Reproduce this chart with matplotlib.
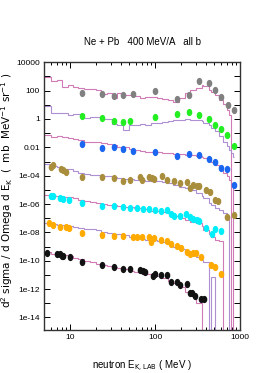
import matplotlib
matplotlib.use("Agg")
import matplotlib.pyplot as plt
from matplotlib import font_manager
from matplotlib.path import Path
from matplotlib.transforms import Affine2D
from matplotlib.ticker import FixedLocator, FixedFormatter, LogLocator, NullFormatter

# narrow font for the numbers, if we have it
installed = {f.name for f in font_manager.fontManager.ttflist}
if "Liberation Sans Narrow" in installed:
    plt.rcParams['font.family'] = ['Liberation Sans Narrow', 'DejaVu Sans']
    num_size = 7
else:
    plt.rcParams['font.family'] = ['Liberation Sans', 'DejaVu Sans']
    num_size = 6

# === measured points (already scaled by the 100^n offsets) ===
gray_E = [13.7, 23.6, 32.9, 42.4, 54.7, 100, 180, 253, 329, 428, 508, 598, 717, 850]
gray_v = [72, 61, 42, 52, 58, 94, 26, 49, 500, 363, 111, 37, 9.7, 4.1]

green_E = [13.9, 23.6, 32.9, 42.4, 50.4, 100, 181, 253, 329, 428, 508, 598, 709, 850]
green_v = [1.62, 1.12, 0.76, 0.64, 0.76, 1.38, 2.2, 3.1, 1.9, 1.0, 0.40, 0.20, 0.074, 0.013]

blue_E = [13.9, 23.6, 32.9, 42.4, 54.7, 100, 181, 253, 329, 428, 508, 598, 709, 850]
blue_v = [0.0163, 0.0085, 0.010, 0.0079, 0.0058, 0.0045, 0.0026, 0.0035, 0.0030,
          0.0014, 0.00092, 0.00036, 0.00030, 2.2e-5]

olive_E = [5.98, 6.36, 7.84, 8.34, 8.97, 13.9, 23.6, 32.9, 42.4, 50.4, 66.6, 70.9, 85,
           91.5, 97.9, 120, 139, 167, 197, 236, 258, 282, 309, 329, 394, 444, 512, 549,
           709, 850]
olive_v = [4.3e-4, 5.6e-4, 3.0e-4, 2.5e-4, 1.9e-4, 8.5e-5, 8.5e-5, 6.5e-5, 4.4e-5, 4.9e-5,
           7.6e-5, 4.9e-5, 8.5e-5, 6.5e-5, 6.1e-5, 9.5e-5, 4.9e-5, 4.2e-5, 2.9e-5, 3.6e-5,
           1.35e-5, 2.1e-5, 1.95e-5, 1.9e-5, 9.7e-6, 7.4e-6, 1.9e-6, 1.6e-6, 1.27e-7, 1.75e-7]

cyan_E = [5.98, 6.36, 7.63, 8.34, 9.81, 13.9, 23.6, 32.9, 42.4, 50.4, 60.8, 71.4, 84.3, 99,
          118, 139, 154, 168, 198, 233, 258, 282, 309, 329, 394, 467, 508, 602]
cyan_v = [3.7e-6, 3.7e-6, 2.5e-6, 2.2e-6, 1.9e-6, 1.1e-6, 7.2e-7, 7.2e-7, 5.8e-7, 5.0e-7,
          5.5e-7, 4.2e-7, 4.7e-7, 3.8e-7, 3.2e-7, 3.8e-7, 1.96e-7, 1.5e-7, 1.4e-7, 1.96e-7,
          1.15e-7, 8.3e-8, 7.4e-8, 6.6e-8, 1.9e-8, 7.2e-9, 1.6e-8, 1.3e-8]

orange_E = [5.7, 6.36, 7.6, 8.97, 9.8, 13.9, 23.6, 32.9, 42.4, 54.7, 60.8, 70.9, 84, 90, 97,
            118, 139, 154, 182, 200, 236, 258, 282, 302, 352, 451, 508, 602]
orange_v = [4.4e-8, 3.3e-8, 2.6e-8, 2.4e-8, 2.1e-8, 9.4e-9, 6.5e-9, 5.8e-9, 5.8e-9, 4.9e-9,
            4.5e-9, 4.5e-9, 4.9e-9, 2.2e-9, 3.8e-9, 2.9e-9, 2.6e-9, 1.5e-9, 1.15e-9, 8.3e-10,
            4.3e-10, 3.0e-10, 3.7e-10, 3.7e-10, 1.9e-10, 4.9e-11, 3.4e-11, 1.15e-11]

black_E = [5.4, 6.97, 7.63, 7.98, 8.34, 10, 13.9, 23.5, 32.9, 42.4, 50.8, 67.3, 73.1, 77.3,
           94, 100, 119, 138, 153, 180, 197, 236, 258, 276, 298, 347, 382]
black_v = [3.5e-10, 2.8e-10, 2.8e-10, 2.3e-10, 2.1e-10, 1.7e-10, 8.5e-11, 4.9e-11, 3.9e-11,
           2.6e-11, 2.6e-11, 2.2e-11, 1.9e-11, 1.5e-11, 8.5e-12, 1.1e-11, 9.8e-12, 9.8e-12,
           3.3e-12, 3.0e-12, 1.9e-12, 2.2e-12, 5.5e-13, 5.0e-13, 3.2e-13, 1.9e-13, 1.9e-13]

# === model histograms (shared bin edges, MeV) ===
edges = [5, 6, 7, 8, 9.5, 11, 12.5, 14.5, 17, 20, 23, 27, 31, 36, 42, 49, 57, 66, 77, 90,
         105, 122, 142, 165, 192, 223, 260, 300, 355, 370, 431, 455, 510, 570, 637, 700,
         748, 794, 820, 850]

gray_h = [950, 450, 560, 180, 250, 180, 160, 140, 130, 110, 58, 70, 28, 65, 51, 49, 40, 32,
          37, 34, 29, 26, 22, 17, 30, 68, 110, 155, 250, 220, 110, 80, 49, 22, 11.5, 4.3,
          1.9, 0, 0]
green_h = [8, 2.8, 2.5, 2.5, 1.9, 2.1, 2.1, 1.25, 1.3, 1.3, 0.95, 1.0, 0.45, 0.35, 0.17,
           0.4, 0.38, 0.45, 0.38, 0.5, 0.56, 0.65, 0.7, 0.8, 0.9, 1.0, 0.85, 0.8, 0.75, 0.5,
           0.35, 0.25, 0.14, 0.063, 0.025, 0.0126, 0.0063, 0.004, 0.002]
blue_h = [0.07, 0.051, 0.063, 0.05, 0.044, 0.04, 0.035, 0.025, 0.025, 0.022, 0.019, 0.016,
          0.0145, 0.011, 0.010, 0.008, 0.0065, 0.0056, 0.0049, 0.0049, 0.0044, 0.0038,
          0.0038, 0.0033, 0.0032, 0.0029, 0.0029, 0.0026, 0.0022, 0.0018, 0.00126, 0.0009,
          0.00056, 0.00032, 0.00016, 8.9e-5, 5e-5, 3.2e-5, 0]
olive_h = [6.6e-4, 4.8e-4, 4.0e-4, 3.2e-4, 2.8e-4, 2.2e-4, 1.6e-4, 1.4e-4, 1.2e-4, 1.05e-4,
           9.5e-5, 8.9e-5, 7.6e-5, 7.1e-5, 6.3e-5, 5.6e-5, 5.0e-5, 5.0e-5, 4.5e-5, 4.2e-5,
           4.0e-5, 3.7e-5, 3.2e-5, 2.2e-5, 1.6e-5, 1.26e-5, 1.0e-5, 6.3e-6, 4e-6, 2.5e-6,
           1.26e-6, 9e-7, 5.6e-7, 3.5e-7, 2.2e-7, 1.26e-7, 0, 0, 0]
cyan_h = [4.5e-6, 4.0e-6, 3.5e-6, 3.2e-6, 3.0e-6, 2.5e-6, 2.0e-6, 1.6e-6, 1.45e-6, 1.26e-6,
          9.5e-7, 8.5e-7, 8e-7, 7.1e-7, 6.3e-7, 5.9e-7, 5.2e-7, 5.0e-7, 4.7e-7, 3.4e-7,
          3.2e-7, 2.8e-7, 2.2e-7, 1.5e-7, 1.1e-7, 7e-8, 5e-8, 4.5e-8, 3e-8, 1.5e-8, 8e-9,
          5e-9, 3e-9, 2.5e-9, 0, 0, 0, 0, 0]
orange_h = [4.4e-8, 4.0e-8, 3.5e-8, 3.2e-8, 2.8e-8, 2.5e-8, 2.2e-8, 1.8e-8, 1.6e-8, 1.4e-8,
            1.1e-8, 8.9e-9, 7.9e-9, 7.2e-9, 6.3e-9, 5.0e-9, 4.0e-9, 3.2e-9, 2.9e-9, 2.8e-9,
            2.5e-9, 2.0e-9, 1.5e-9, 1.0e-9, 7e-10, 4.3e-10, 2.5e-10, 1.9e-10, 1.2e-10,
            8.5e-11, 0, 7.4e-12, 0, 0, 0, 0, 0, 0, 0]
black_h = [3.9e-10, 3.2e-10, 2.5e-10, 2.5e-10, 2.0e-10, 1.6e-10, 1.26e-10, 9.5e-11, 7.9e-11,
           6.3e-11, 4.9e-11, 4.5e-11, 3.5e-11, 3.2e-11, 2.5e-11, 2.0e-11, 1.6e-11, 1.3e-11,
           1.2e-11, 1.1e-11, 9e-12, 6.5e-12, 4e-12, 2.5e-12, 1.4e-12, 6e-13, 4.5e-13,
           1.1e-13, 0, 0, 0, 0, 0, 0, 0, 0, 0, 0, 0]

PINK = "#d07ab6"
LAV = "#ad8fd2"

series = [
    (gray_E, gray_v, gray_h, "#808080", PINK),
    (green_E, green_v, green_h, "#22ee22", LAV),
    (blue_E, blue_v, blue_h, "#1a66f0", PINK),
    (olive_E, olive_v, olive_h, "#a88e3c", LAV),
    (cyan_E, cyan_v, cyan_h, "#00eefa", PINK),
    (orange_E, orange_v, orange_h, "#ffaa00", LAV),
    (black_E, black_v, black_h, "#111111", PINK),
]

# oval marker (taller than wide)
oval = Path.unit_circle().transformed(Affine2D().scale(0.72, 1.0))

fig = plt.figure(figsize=(2.66, 3.73), dpi=100)
ax = fig.add_axes([0.1654, 0.1153, 0.7369, 0.7177])

for E, v, h, mcol, hcol in series:
    ax.stairs(h, edges, color=hcol, lw=0.8, baseline=None, zorder=2)
    ax.plot(E, v, ls="none", marker=oval, ms=4.2, color=mcol, mec=mcol, zorder=3)

ax.set_xscale("log")
ax.set_yscale("log")
ax.set_xlim(4.95, 1000)
ax.set_ylim(1.3e-15, 1e4)

ax.xaxis.set_major_locator(FixedLocator([10, 100, 1000]))
ax.xaxis.set_major_formatter(FixedFormatter(["10", "100", "1000"]))
ax.xaxis.set_minor_locator(LogLocator(base=10, subs=range(2, 10), numticks=20))
ax.xaxis.set_minor_formatter(NullFormatter())

ymaj = [1e4, 1e2, 1, 1e-2, 1e-4, 1e-6, 1e-8, 1e-10, 1e-12, 1e-14]
ylab = ["10000", "100", "1", "0.01", "1e-04", "1e-06", "1e-08", "1e-10", "1e-12", "1e-14"]
ax.yaxis.set_major_locator(FixedLocator(ymaj))
ax.yaxis.set_major_formatter(FixedFormatter(ylab))
ax.yaxis.set_minor_locator(FixedLocator([1e3, 10, 0.1, 1e-3, 1e-5, 1e-7, 1e-9, 1e-11, 1e-13, 1e-15]))
ax.yaxis.set_minor_formatter(NullFormatter())

ax.tick_params(which="both", direction="in", top=True, right=True, labelsize=num_size, pad=3)
ax.tick_params(which="major", length=4, width=0.7)
ax.tick_params(which="minor", length=4, width=0.7)
ax.tick_params(axis="x", which="minor", length=2.5)
for s in ax.spines.values():
    s.set_linewidth(1.0)
    s.set_color("#333333")

fig.text(0.534, 0.887, "Ne + Pb   400 MeV/A   all b", ha="center", va="center", fontsize=7)
fig.text(0.534, 0.018, r"neutron E$_{\rm K,LAB}$ ( MeV )", ha="center", va="center", fontsize=7)
fig.text(0.027, 0.49,
         r"d$^2$ sigma / d Omega d E$_{\rm K}$  (  mb  MeV$^{-1}$ sr$^{-1}$ )",
         ha="center", va="center", rotation=90, fontsize=7.5,
         family=["DejaVu Sans"])

fig.savefig("out.png", dpi=100)
